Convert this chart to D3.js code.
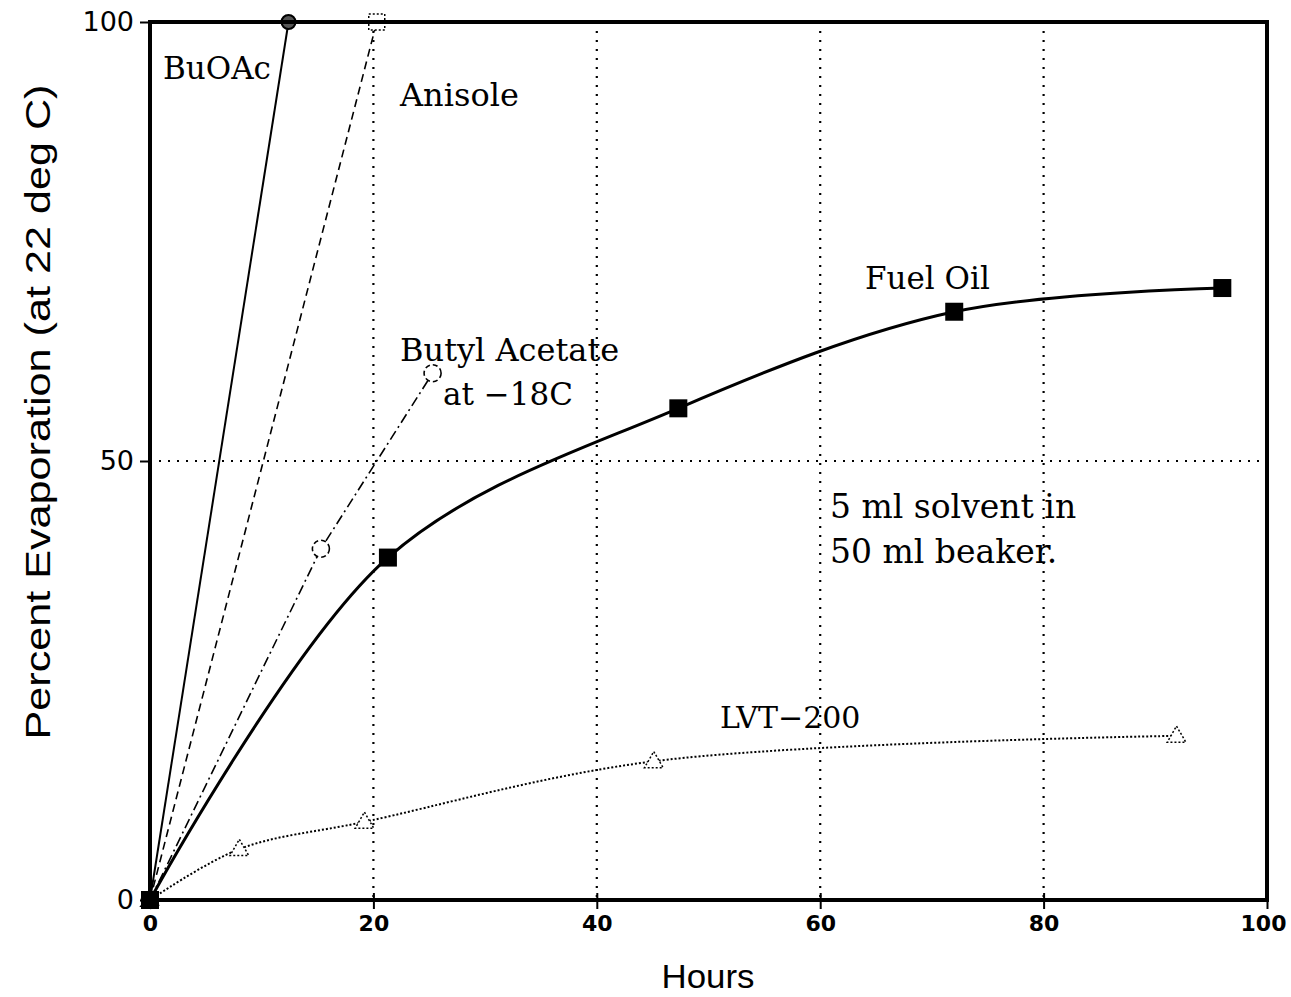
<!DOCTYPE html>
<html>
<head>
<meta charset="utf-8">
<script src="https://cdn.jsdelivr.net/npm/d3@7"></script>
<style>
  body { margin: 0; background: #fff; }
  svg { display: block; }
</style>
</head>
<body>
<script>
// data
var xTicks = [0, 20, 40, 60, 80, 100];
var yTicks = [0, 50, 100];

var buoacHours = [0, 12.4];
var buoacPct   = [0, 100];

var anisoleHours = [0, 20.3];
var anisolePct   = [0, 100];

var butylColdHours = [0, 15.3, 25.3];
var butylColdPct   = [0, 40, 60];

var fuelHours = [0, 21.3, 47.3, 72, 96];
var fuelPct   = [0, 39, 56, 67, 69.7];

var lvtHours = [0, 8, 19.2, 45.1, 91.9];
var lvtPct   = [0, 5.8, 8.9, 15.8, 18.7];

var W = 1291, H = 997;
var pLeft = 150, pTop = 22, pRight = 1267, pBottom = 900;

var svg = d3.select("body").append("svg")
  .attr("width", W).attr("height", H);

var x = d3.scaleLinear().domain([0, 100]).range([pLeft, pRight]);
var y = d3.scaleLinear().domain([0, 100]).range([pBottom, pTop]);

var grid = svg.append('g');
var plot = svg.append('g');
var labels = svg.append('g');

/*
/	GRID
*/
grid.selectAll('line.vx').data([20, 40, 60, 80]).enter().append('line')
  .attr('x1', d => x(d)).attr('x2', d => x(d))
  .attr('y1', pTop).attr('y2', pBottom)
  .attr('stroke', '#000').attr('stroke-width', 2.2)
  .attr('stroke-dasharray', '2,7');
grid.append('line')
  .attr('x1', pLeft).attr('x2', pRight)
  .attr('y1', y(50)).attr('y2', y(50))
  .attr('stroke', '#000').attr('stroke-width', 2.2)
  .attr('stroke-dasharray', '2,7');

/*
/	AXES
*/
var xAxis = d3.axisBottom(x).tickValues(xTicks).tickSize(9).tickPadding(6);
var gx = svg.append('g').attr('transform', 'translate(0,' + pBottom + ')').call(xAxis);
gx.select('.domain').remove();
gx.selectAll('.tick line').attr('stroke-width', 2);
gx.selectAll('.tick text')
  .attr('font-family', 'DejaVu Sans, sans-serif')
  .attr('font-weight', 'bold')
  .attr('font-size', 22)
  .attr('fill', '#000');
// nudge the last label so it stays inside the page
gx.selectAll('.tick text').filter(d => d === 100).attr('dx', -4);
// little inside ticks
gx.selectAll('.tick').append('line')
  .attr('y1', 0).attr('y2', -7).attr('stroke', '#000').attr('stroke-width', 2);

var yAxis = d3.axisLeft(y).tickValues(yTicks).tickSize(10).tickPadding(6);
var gy = svg.append('g').attr('transform', 'translate(' + pLeft + ',0)').call(yAxis);
gy.select('.domain').remove();
gy.selectAll('.tick line').attr('stroke-width', 2);
gy.selectAll('.tick text')
  .attr('font-family', 'DejaVu Sans, sans-serif')
  .attr('font-size', 27)
  .attr('fill', '#000');

/*
/	FRAME
*/
svg.append('rect')
  .attr('x', pLeft).attr('y', pTop)
  .attr('width', pRight - pLeft).attr('height', pBottom - pTop)
  .attr('fill', 'none').attr('stroke', '#000').attr('stroke-width', 4);

/*
/	SERIES
*/
function pts(xs, ys) {
  return xs.map(function(d, i) { return [d, ys[i]]; });
}
var lineStraight = d3.line().x(d => x(d[0])).y(d => y(d[1]));
var lineSmooth = d3.line().x(d => x(d[0])).y(d => y(d[1])).curve(d3.curveCatmullRom.alpha(0.5));

// BuOAc
plot.append('path').datum(pts(buoacHours, buoacPct))
  .attr('d', lineStraight).attr('fill', 'none')
  .attr('stroke', '#000').attr('stroke-width', 2);

// Anisole
plot.append('path').datum(pts(anisoleHours, anisolePct))
  .attr('d', lineStraight).attr('fill', 'none')
  .attr('stroke', '#000').attr('stroke-width', 1.6)
  .attr('stroke-dasharray', '8,5');

// Butyl acetate at -18C
plot.append('path').datum(pts(butylColdHours, butylColdPct))
  .attr('d', lineStraight).attr('fill', 'none')
  .attr('stroke', '#000').attr('stroke-width', 1.6)
  .attr('stroke-dasharray', '10,4,2,4');

// Fuel oil
plot.append('path').datum(pts(fuelHours, fuelPct))
  .attr('d', lineSmooth).attr('fill', 'none')
  .attr('stroke', '#000').attr('stroke-width', 3);

// LVT-200
plot.append('path').datum(pts(lvtHours, lvtPct))
  .attr('d', lineSmooth).attr('fill', 'none')
  .attr('stroke', '#000').attr('stroke-width', 2)
  .attr('stroke-dasharray', '2,2');

/*
/	MARKERS
*/
// BuOAc circles
plot.selectAll('circle.bu').data(pts(buoacHours, buoacPct)).enter().append('circle')
  .attr('cx', d => x(d[0])).attr('cy', d => y(d[1])).attr('r', 7)
  .attr('fill', '#555').attr('stroke', '#000').attr('stroke-width', 2);

// Anisole open squares
plot.selectAll('rect.an').data(pts(anisoleHours, anisolePct)).enter().append('rect')
  .attr('x', d => x(d[0]) - 8).attr('y', d => y(d[1]) - 8)
  .attr('width', 16).attr('height', 16)
  .attr('fill', '#fff').attr('stroke', '#000').attr('stroke-width', 1.5)
  .attr('stroke-dasharray', '2,2');

// Butyl acetate open circles
plot.selectAll('circle.ba').data(pts(butylColdHours, butylColdPct)).enter().append('circle')
  .attr('cx', d => x(d[0])).attr('cy', d => y(d[1])).attr('r', 8.5)
  .attr('fill', '#fff').attr('stroke', '#000').attr('stroke-width', 1.6)
  .attr('stroke-dasharray', '5,3');

// LVT triangles
var tri = d3.symbol().type(d3.symbolTriangle).size(150);
plot.selectAll('path.lvt').data(pts(lvtHours, lvtPct)).enter().append('path')
  .attr('d', tri)
  .attr('transform', d => 'translate(' + x(d[0]) + ',' + (y(d[1]) + 1) + ')')
  .attr('fill', '#fff').attr('stroke', '#000').attr('stroke-width', 1.5)
  .attr('stroke-dasharray', '2,2');

// Fuel oil filled squares
plot.selectAll('rect.fo').data(pts(fuelHours, fuelPct)).enter().append('rect')
  .attr('x', d => x(d[0]) - 9).attr('y', d => y(d[1]) - 9)
  .attr('width', 18).attr('height', 18)
  .attr('fill', '#000');

/*
/	TEXT LABELS
*/
var serif = 'DejaVu Serif, Liberation Serif, serif';
var notes = [
  ['BuOAc', 163, 79, 31],
  ['Anisole', 400, 106, 32],
  ['Fuel Oil', 865, 289, 31],
  ['Butyl Acetate', 400, 361, 32],
  ['at \u221218C', 443, 405, 31],
  ['5 ml solvent in', 830, 518, 33],
  ['50 ml beaker.', 830, 563, 33],
  ['LVT\u2212200', 720, 728, 30]
];
labels.selectAll('text').data(notes).enter().append('text')
  .attr('x', d => d[1]).attr('y', d => d[2])
  .attr('font-family', serif)
  .attr('font-size', d => d[3])
  .attr('fill', '#000')
  .text(d => d[0]);

// axis titles
svg.append('text')
  .attr('x', 708).attr('y', 988)
  .attr('text-anchor', 'middle')
  .attr('font-family', 'Liberation Sans, Arial, sans-serif')
  .attr('font-size', 34)
  .attr('textLength', 93).attr('lengthAdjust', 'spacingAndGlyphs')
  .text('Hours');

svg.append('text')
  .attr('transform', 'translate(50,412) rotate(-90)')
  .attr('text-anchor', 'middle')
  .attr('font-family', 'Liberation Sans, Arial, sans-serif')
  .attr('font-size', 35)
  .attr('textLength', 655).attr('lengthAdjust', 'spacingAndGlyphs')
  .text('Percent Evaporation (at 22 deg C)');
</script>
</body>
</html>
